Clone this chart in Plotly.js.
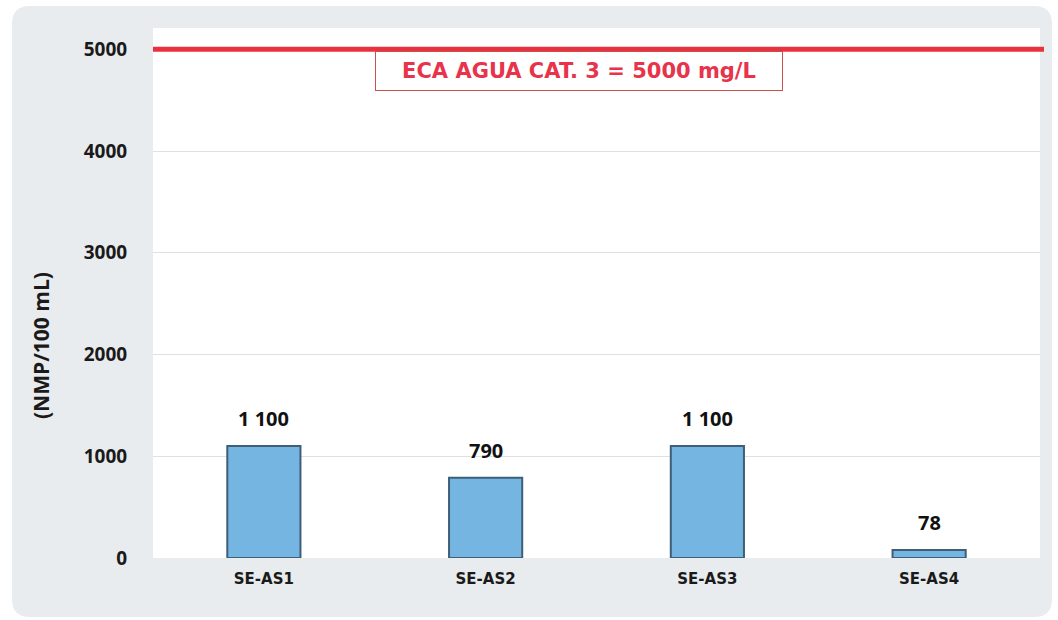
<!DOCTYPE html>
<html>
<head>
<meta charset="utf-8">
<script src="https://cdn.plot.ly/plotly-3.0.1.min.js"></script>
<style>html,body{margin:0;padding:0;background:#fff;}#chart{width:1058px;height:620px;}</style>
</head>
<body>
<div id="chart"></div>
<script>
const stations = ["SE-AS1", "SE-AS2", "SE-AS3", "SE-AS4"];
const values = [1100, 790, 1100, 78];
const valueLabels = ["1 100", "790", "1 100", "78"];
const limitValue = 5000;
const limitLabel = "ECA AGUA CAT. 3 = 5000 mg/L";
const yTicks = [0, 1000, 2000, 3000, 4000, 5000];
const yTickLabels = ["0", "1000", "2000", "3000", "4000", "5000"];
const yTitle = "(NMP/100 mL)";

const W = 1058, H = 620;
const margin = {l: 153, r: 18, t: 28, b: 62};
const pw = W - margin.l - margin.r, ph = H - margin.t - margin.b;
// paper coordinate helpers for panel background
const px = x => (x - margin.l) / pw;
const py = y => 1 - (y - margin.t) / ph;

function roundedRect(x0, y0, x1, y1, r) {
  const X0 = px(x0), X1 = px(x1), Y0 = py(y0), Y1 = py(y1);
  const rx = r / pw, ry = r / ph;
  return `M${X0 + rx},${Y0} L${X1 - rx},${Y0} Q${X1},${Y0} ${X1},${Y0 - ry} L${X1},${Y1 + ry} Q${X1},${Y1} ${X1 - rx},${Y1} L${X0 + rx},${Y1} Q${X0},${Y1} ${X0},${Y1 + ry} L${X0},${Y0 - ry} Q${X0},${Y0} ${X0 + rx},${Y0} Z`;
}

const bars = {
  type: "bar",
  x: stations,
  y: values,
  marker: {
    color: "#74b5e1",
    line: {color: "#3f5f78", width: 2}
  },
  width: 0.33,
  hoverinfo: "x+y"
};

const annotations = stations.map((s, i) => ({
  x: s, y: values[i], xref: "x", yref: "y",
  text: valueLabels[i], showarrow: false,
  yanchor: "bottom", yshift: 12,
  font: {family: "Open Sans, sans-serif", size: 20, color: "#111", weight: "bold"}
}));
annotations.push({
  x: px(579), y: limitValue, xref: "paper", yref: "y",
  text: "<b>" + limitLabel + "</b>", showarrow: false,
  yanchor: "middle", yshift: -22,
  font: {family: "DejaVu Sans, sans-serif", size: 21, color: "#e8334a"},
  bordercolor: "#c9504d", borderwidth: 1, borderpad: 8,
  width: 390, height: 22, bgcolor: "rgba(255,255,255,0)"
});
annotations.push({
  x: px(41), y: py(346), xref: "paper", yref: "paper",
  text: yTitle, showarrow: false, textangle: -90,
  xanchor: "center", yanchor: "middle",
  font: {family: "Open Sans, sans-serif", size: 21, color: "#1a1a1a", weight: "bold"}
});

const layout = {
  width: W, height: H,
  margin: margin,
  paper_bgcolor: "#ffffff",
  plot_bgcolor: "rgba(0,0,0,0)",
  showlegend: false,
  bargap: 0.67,
  xaxis: {
    type: "category",
    showgrid: false, zeroline: false, showline: false,
    tickfont: {family: "DejaVu Sans, sans-serif", size: 15, color: "#1a1a1a", weight: "bold"},
    ticks: "outside", ticklen: 7, tickcolor: "rgba(0,0,0,0)",
    fixedrange: true
  },
  yaxis: {
    range: [0, 5210],
    tickvals: yTicks, ticktext: yTickLabels,
    showgrid: true, gridcolor: "#e0e0e0", gridwidth: 1,
    zeroline: false, showline: false,
    ticks: "outside", ticklen: 21, tickcolor: "rgba(0,0,0,0)",
    tickfont: {family: "Open Sans, sans-serif", size: 19, color: "#1a1a1a", weight: "bold"},
    fixedrange: true
  },
  shapes: [
    {type: "path", xref: "paper", yref: "paper", layer: "below",
     path: roundedRect(12, 6, 1052, 617, 18),
     fillcolor: "#e9ecee", line: {width: 0}},
    {type: "rect", xref: "paper", yref: "paper", layer: "below",
     x0: 0, x1: 1, y0: 0, y1: 1, fillcolor: "#ffffff", line: {width: 0}},
    {type: "line", xref: "paper", yref: "y", layer: "above",
     x0: 0, x1: px(1044), y0: limitValue, y1: limitValue,
     line: {color: "#e8303f", width: 5}}
  ],
  annotations: annotations
};

Plotly.newPlot("chart", [bars], layout, {displayModeBar: false, staticPlot: true});
</script>
</body>
</html>
